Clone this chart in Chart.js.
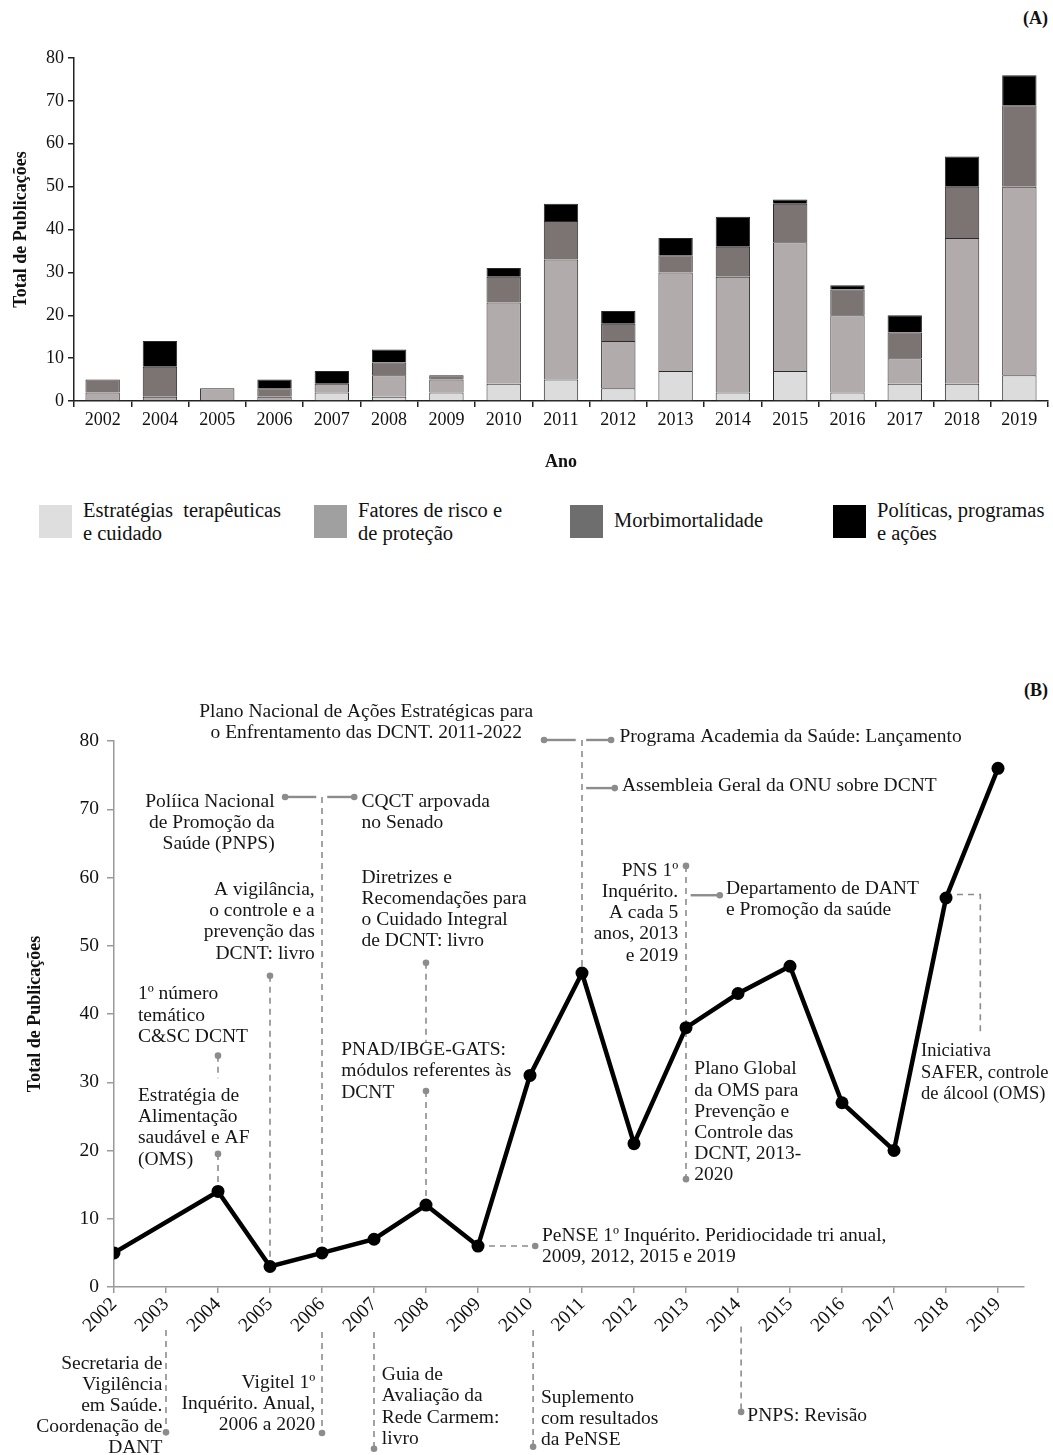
<!DOCTYPE html>
<html lang="pt">
<head>
<meta charset="utf-8">
<title>Publicações sobre DCNT</title>
<script src="https://cdn.jsdelivr.net/npm/chart.js@4.4.1/dist/chart.umd.min.js"></script>
<style>
  html, body { margin: 0; padding: 0; background: #fff; }
  body { width: 1053px; height: 1455px; position: relative; overflow: hidden;
         font-family: 'Liberation Serif', 'Times New Roman', serif; color: #111; }
  canvas { position: absolute; left: 0; }
  #chartA { top: 0; }
  #chartB { top: 640px; }
  .panel { position: absolute; right: 5px; font-weight: bold; font-size: 18px; line-height: 20px; }
  .swatch { position: absolute; width: 33px; height: 33px; }
  .label { position: absolute; font-size: 20.5px; line-height: 23px; white-space: pre; }
</style>
</head>
<body>
<div class="panel" style="top:8px">(A)</div>
<div class="panel" style="top:680px">(B)</div>
<canvas id="chartA" width="1053" height="480"></canvas>
<div id="legend"></div>
<canvas id="chartB" width="1053" height="815"></canvas>
<script>
// --- (A) publicações por ano e tema
const yearsA = ['2002', '2004', '2005', '2006', '2007', '2008', '2009', '2010', '2011',
  '2012', '2013', '2014', '2015', '2016', '2017', '2018', '2019']
const estrategias = [0, 0, 0, 0, 2, 1, 2, 4, 5, 3, 7, 2, 7, 2, 4, 4, 6]
const fatores = [2, 1, 3, 1, 2, 5, 3, 19, 28, 11, 23, 27, 30, 18, 6, 34, 44]
const morbi = [3, 7, 0, 2, 0, 3, 1, 6, 9, 4, 4, 7, 9, 6, 6, 12, 19]
const politicas = [0, 6, 0, 2, 3, 3, 0, 2, 4, 3, 4, 7, 1, 1, 4, 7, 7]
const seriesNames = ['Estratégias  terapêuticas\ne cuidado', 'Fatores de risco e\nde proteção',
  'Morbimortalidade', 'Políticas, programas\ne ações']

// --- (B) total de publicações por ano
const yearsB = [2002, 2004, 2005, 2006, 2007, 2008, 2009, 2010, 2011,
  2012, 2013, 2014, 2015, 2016, 2017, 2018, 2019]
const totals = [5, 14, 3, 5, 7, 12, 6, 31, 46, 21, 38, 43, 47, 27, 20, 57, 76]

// marcos (texto), posições em [ano, publicações]
const notes = [
  { lines: ['Plano Nacional de Ações Estratégicas para', 'o Enfrentamento das DCNT. 2011-2022'], x: 2006.85, y: 84.3, align: 'center' },
  { lines: ['Políica Nacional', 'de Promoção da', 'Saúde (PNPS)'], x: 2005.09, y: 71.1, align: 'right' },
  { lines: ['CQCT arpovada', 'no Senado'], x: 2006.76, y: 71.1, align: 'left' },
  { lines: ['A vigilância,', 'o controle e a', 'prevenção das', 'DCNT: livro'], x: 2005.86, y: 58.2, align: 'right' },
  { lines: ['Diretrizes e', 'Recomendações para', 'o Cuidado Integral', 'de DCNT: livro'], x: 2006.76, y: 60.0, align: 'left' },
  { lines: ['1º número', 'temático', 'C&SC DCNT'], x: 2002.46, y: 42.9, align: 'left' },
  { lines: ['Estratégia de', 'Alimentação', 'saudável e AF', '(OMS)'], x: 2002.46, y: 28.0, align: 'left' },
  { lines: ['PNAD/IBGE-GATS:', 'módulos referentes às', 'DCNT'], x: 2006.37, y: 34.7, align: 'left' },
  { lines: ['PeNSE 1º Inquérito. Peridiocidade tri anual,', '2009, 2012, 2015 e 2019'], x: 2010.23, y: 7.5, align: 'left' },
  { lines: ['Programa Academia da Saúde: Lançamento'], x: 2011.72, y: 80.6, align: 'left' },
  { lines: ['Assembleia Geral da ONU sobre DCNT'], x: 2011.77, y: 73.4, align: 'left' },
  { lines: ['PNS 1º', 'Inquérito.', 'A cada 5', 'anos, 2013', 'e 2019'], x: 2012.85, y: 61.0, align: 'right' },
  { lines: ['Departamento de DANT', 'e Promoção da saúde'], x: 2013.77, y: 58.4, align: 'left' },
  { lines: ['Plano Global', 'da OMS para', 'Prevenção e', 'Controle das', 'DCNT, 2013-', '2020'], x: 2013.16, y: 31.9, align: 'left' },
  { lines: ['Iniciativa', 'SAFER, controle', 'de álcool (OMS)'], x: 2017.52, y: 34.5, align: 'left', size: 18.5 },
  { lines: ['Secretaria de', 'Vigilência', 'em Saúde.', 'Coordenação de', 'DANT'], x: 2002.93, y: -11.2, align: 'right' },
  { lines: ['Vigitel 1º', 'Inquérito. Anual,', '2006 a 2020'], x: 2005.87, y: -14.0, align: 'right' },
  { lines: ['Guia de', 'Avaliação da', 'Rede Carmem:', 'livro'], x: 2007.15, y: -12.9, align: 'left' },
  { lines: ['Suplemento', 'com resultados', 'da PeNSE'], x: 2010.21, y: -16.2, align: 'left' },
  { lines: ['PNPS: Revisão'], x: 2014.18, y: -18.9, align: 'left' }
]

// linhas de ligação: dash = tracejada, dots = índices dos pontos com marcador
const links = [
  { pts: [[2010.27, 80.15], [2010.88, 80.15]], dots: [0] },
  { pts: [[2011.08, 80.15], [2011.56, 80.15]], dots: [1] },
  { pts: [[2011, 80.15], [2011, 46]], dash: true },
  { pts: [[2011.08, 73.1], [2011.63, 73.1]], dots: [1] },
  { pts: [[2005.29, 71.8], [2005.89, 71.8]], dots: [0] },
  { pts: [[2006.1, 71.8], [2006.62, 71.8]], dots: [1] },
  { pts: [[2006, 71.8], [2006, 5]], dash: true },
  { pts: [[2005, 45.6], [2005, 3]], dash: true, dots: [0] },
  { pts: [[2008, 47.5], [2008, 35.8]], dash: true, dots: [0] },
  { pts: [[2008, 28.7], [2008, 12]], dash: true, dots: [0] },
  { pts: [[2004, 33.9], [2004, 30.6]], dash: true, dots: [0] },
  { pts: [[2004, 19.5], [2004, 14]], dash: true, dots: [0] },
  { pts: [[2009, 6], [2010.1, 6]], dash: true, dots: [1] },
  { pts: [[2013, 61.7], [2013, 15.8]], dash: true, dots: [0, 1] },
  { pts: [[2013.09, 57.4], [2013.65, 57.4]], dots: [1] },
  { pts: [[2018, 57.5], [2018.66, 57.5], [2018.66, 37.2]], dash: true },
  { pts: [[2003, -6.3], [2003, -21.3]], dash: true, dots: [1] },
  { pts: [[2006, -6.6], [2006, -21.4]], dash: true, dots: [1] },
  { pts: [[2007, -6.6], [2007, -23.7]], dash: true, dots: [1] },
  { pts: [[2010.06, -6.3], [2010.06, -23.4]], dash: true, dots: [1] },
  { pts: [[2014.06, -5.8], [2014.06, -18.3]], dash: true, dots: [1] }
]

const barColors = ['#dcdcdc', '#b1acab', '#7b7473', '#000000']
const swatchColors = ['#dedede', '#a0a0a0', '#6e6e6e', '#000000']
const legendX = [39, 314, 570, 833]
const FONT = "'Liberation Serif', 'Times New Roman', serif"

Chart.defaults.font.family = FONT
Chart.defaults.color = '#111'

const axisFont = { family: FONT, size: 18 }
const titleFont = { family: FONT, size: 18, weight: 'bold' }

new Chart(document.getElementById('chartA'), {
  type: 'bar',
  data: {
    labels: yearsA,
    datasets: [estrategias, fatores, morbi, politicas].map((d, i) => ({
      label: seriesNames[i].replace('\n', ' '),
      data: d,
      backgroundColor: barColors[i],
      borderColor: '#2a2a2a',
      borderWidth: 1,
      barPercentage: 0.6,
      categoryPercentage: 1
    }))
  },
  options: {
    responsive: false,
    animation: false,
    layout: { padding: { top: 58, right: 5, left: 0, bottom: 0 } },
    plugins: { legend: { display: false }, tooltip: { enabled: false } },
    scales: {
      x: {
        stacked: true,
        grid: { drawOnChartArea: false, tickLength: 6, color: '#222', lineWidth: 1.5, offset: true },
        border: { color: '#222', width: 1.5 },
        ticks: { font: axisFont, padding: 2, maxRotation: 0, autoSkip: false },
        title: { display: true, text: 'Ano', font: titleFont, padding: { top: 10, bottom: 7 } },
        afterFit: s => { s.height = 79 }
      },
      y: {
        stacked: true,
        min: 0,
        max: 80,
        grid: { drawOnChartArea: false, tickLength: 6, color: '#222', lineWidth: 1.5 },
        border: { color: '#222', width: 1.5 },
        ticks: { stepSize: 10, font: axisFont, padding: 4 },
        title: { display: true, text: 'Total de Publicações', font: titleFont, padding: { top: 11 } },
        afterFit: s => { s.width = 74 }
      }
    }
  }
})

// legenda em HTML
const legend = document.getElementById('legend')
seriesNames.forEach((name, i) => {
  const sw = document.createElement('div')
  sw.className = 'swatch'
  sw.style.left = legendX[i] + 'px'
  sw.style.top = '505px'
  sw.style.background = swatchColors[i]
  legend.appendChild(sw)
  const lb = document.createElement('div')
  lb.className = 'label'
  lb.style.left = (legendX[i] + 44) + 'px'
  lb.style.top = (name.includes('\n') ? 499 : 509) + 'px'
  lb.textContent = name
  legend.appendChild(lb)
})

const notesPlugin = {
  id: 'notes',
  beforeDatasetsDraw(chart) {
    const { ctx, scales: { x, y } } = chart
    ctx.save()
    ctx.strokeStyle = '#8c8c8c'
    ctx.fillStyle = '#8c8c8c'
    links.forEach(l => {
      const p = l.pts.map(([a, b]) => [x.getPixelForValue(a), y.getPixelForValue(b)])
      ctx.lineWidth = l.dash ? 1.6 : 2.4
      ctx.setLineDash(l.dash ? [6, 5] : [])
      ctx.beginPath()
      p.forEach(([px, py], k) => k ? ctx.lineTo(px, py) : ctx.moveTo(px, py))
      ctx.stroke()
      ;(l.dots || []).forEach(k => {
        ctx.beginPath()
        ctx.arc(p[k][0], p[k][1], 3.3, 0, Math.PI * 2)
        ctx.fill()
      })
    })
    ctx.restore()
  },
  afterDraw(chart) {
    const { ctx, scales: { x, y } } = chart
    ctx.save()
    ctx.fillStyle = '#161616'
    ctx.textBaseline = 'middle'
    notes.forEach(n => {
      ctx.font = (n.size || 19.5) + 'px ' + FONT
      ctx.textAlign = n.align
      const px = x.getPixelForValue(n.x)
      const py = y.getPixelForValue(n.y)
      n.lines.forEach((t, k) => ctx.fillText(t, px, py + k * 21.2))
    })
    ctx.restore()
  }
}

new Chart(document.getElementById('chartB'), {
  type: 'line',
  data: {
    datasets: [{
      label: 'Total de Publicações',
      data: yearsB.map((yr, i) => ({ x: yr, y: totals[i] })),
      borderColor: '#000',
      backgroundColor: '#000',
      borderWidth: 4.5,
      pointRadius: 6.5,
      pointBackgroundColor: '#000',
      pointBorderWidth: 0,
      tension: 0
    }]
  },
  options: {
    responsive: false,
    animation: false,
    layout: { padding: { top: 101, right: 29, left: 0, bottom: 0 } },
    plugins: { legend: { display: false }, tooltip: { enabled: false } },
    scales: {
      x: {
        type: 'linear',
        min: 2002,
        max: 2019.5,
        // one tick per year, 2002..2019 (the extra half year only pads the axis line)
        afterBuildTicks: s => {
          const t = []
          for (let v = yearsB[0]; v <= yearsB[yearsB.length - 1]; v++) t.push({ value: v })
          s.ticks = t
        },
        grid: { drawOnChartArea: false, tickLength: 6, color: '#9a9a9a', lineWidth: 1.5 },
        border: { color: '#9a9a9a', width: 1.5 },
        ticks: { stepSize: 1, font: { family: FONT, size: 19.5 }, padding: 0,
          minRotation: 45, maxRotation: 45, autoSkip: false, callback: v => String(v) },
        afterFit: s => { s.height = 168 }
      },
      y: {
        min: 0,
        max: 80,
        grid: { drawOnChartArea: false, tickLength: 7, color: '#9a9a9a', lineWidth: 1.5 },
        border: { color: '#9a9a9a', width: 1.5 },
        ticks: { stepSize: 10, font: { family: FONT, size: 19.5 }, padding: 8 },
        title: { display: true, text: 'Total de Publicações', font: titleFont, padding: { top: 25 } },
        afterFit: s => { s.width = 114 }
      }
    }
  },
  plugins: [notesPlugin]
})
</script>
</body>
</html>
